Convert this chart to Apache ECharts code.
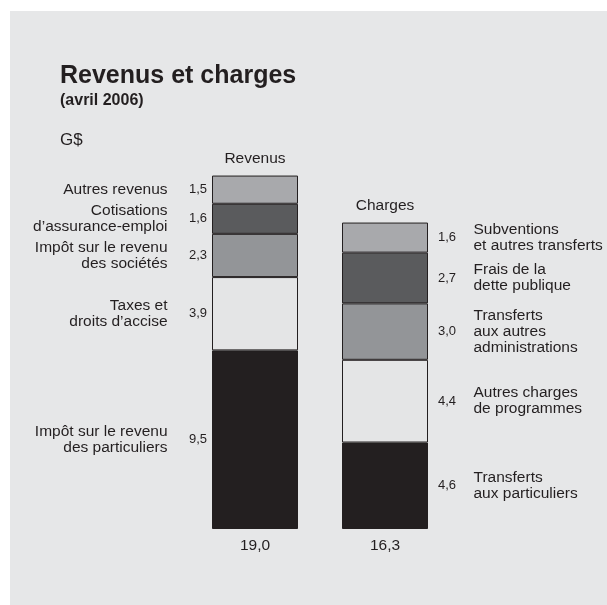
<!DOCTYPE html>
<html>
<head>
<meta charset="utf-8">
<script src="https://cdn.jsdelivr.net/npm/echarts@6/dist/echarts.min.js"></script>
<style>
  html, body { margin: 0; padding: 0; background: #ffffff; }
  #chart { width: 607px; height: 605px; }
</style>
</head>
<body>
<div id="chart"></div>
<script>
// ---- Data (segments listed bottom to top) ----
const categories = ['Revenus', 'Charges'];
const revenueNames = ['Impôt sur le revenu\ndes particuliers', 'Taxes et\ndroits d’accise', 'Impôt sur le revenu\ndes sociétés', 'Cotisations\nd’assurance-emploi', 'Autres revenus'];
const revenueValues = [9.5, 3.9, 2.3, 1.6, 1.5];
const chargeNames = ['Transferts\naux particuliers', 'Autres charges\nde programmes', 'Transferts\naux autres\nadministrations', 'Frais de la\ndette publique', 'Subventions\net autres transferts'];
const chargeValues = [4.6, 4.4, 3.0, 2.7, 1.6];
const totals = [19.0, 16.3];
const levelColors = ['#231f20', '#e4e5e6', '#939598', '#5a5b5d', '#a8a9ac'];

const FONT = '"Liberation Sans", Arial, Helvetica, sans-serif';
const INK = '#231f20';
const PANEL = '#e6e7e8';
const fmt = v => v.toFixed(1).replace('.', ',');

const stacks = [revenueValues, chargeValues];
const names = [revenueNames, chargeNames];

const barSeries = levelColors.map((col, lvl) => ({
  type: 'bar',
  stack: 'total',
  barWidth: 86,
  itemStyle: { color: col, borderColor: INK, borderWidth: 1, opacity: 1 },
  label: { show: true, fontFamily: FONT, fontSize: 13, color: INK, textBorderWidth: 0, formatter: p => fmt(p.value) },
  emphasis: { disabled: true },
  data: stacks.map((vals, ci) => ({
    value: vals[lvl],
    label: ci === 0 ? { position: 'left', distance: 5 } : { position: 'right', distance: 10 }
  }))
}));

// name labels at segment midpoints
const nameData = [];
stacks.forEach((vals, ci) => {
  let cum = 0;
  vals.forEach((v, lvl) => {
    nameData.push({
      value: [ci, cum + v / 2],
      name: names[ci][lvl],
      label: ci === 0 ? { position: 'left', distance: 87, align: 'right' } : { position: 'right', distance: 88, align: 'left' }
    });
    cum += v;
  });
});

const headData = stacks.map((vals, ci) => ({
  value: [ci, vals.reduce((a, b) => a + b, 0)],
  name: categories[ci]
}));

const option = {
  animation: false,
  backgroundColor: '#ffffff',
  textStyle: { fontFamily: FONT },
  graphic: [
    { type: 'rect', left: 10, top: 11, z: -10, silent: true,
      shape: { width: 597, height: 594 }, style: { fill: PANEL } }
  ],
  title: [
    { text: 'Revenus et charges', left: 60, top: 64, padding: 0,
      textStyle: { fontFamily: FONT, fontSize: 25, fontWeight: 'bold', color: INK } },
    { text: '(avril 2006)', left: 60, top: 93, padding: 0,
      textStyle: { fontFamily: FONT, fontSize: 16, fontWeight: 'bold', color: INK } },
    { text: 'G$', left: 60, top: 132, padding: 0,
      textStyle: { fontFamily: FONT, fontSize: 17, fontWeight: 'normal', color: INK } }
  ],
  grid: { left: 190, width: 260, top: 171.8, bottom: 76 },
  xAxis: {
    type: 'category',
    data: categories,
    axisLine: { show: false },
    axisTick: { show: false },
    axisLabel: { margin: 9, fontFamily: FONT, fontSize: 15.5, color: INK, formatter: (v, i) => fmt(totals[i]) }
  },
  yAxis: { type: 'value', min: 0, max: 19, show: false, splitLine: { show: false } },
  series: barSeries.concat([
    {
      type: 'scatter',
      symbolSize: 1,
      itemStyle: { color: 'rgba(0,0,0,0)' },
      emphasis: { disabled: true },
      label: { show: true, formatter: p => p.name, fontFamily: FONT, fontSize: 15.5, lineHeight: 16, color: INK, opacity: 1, textBorderWidth: 0 },
      data: nameData,
      z: 5
    },
    {
      type: 'scatter',
      symbolSize: 1,
      itemStyle: { color: 'rgba(0,0,0,0)' },
      emphasis: { disabled: true },
      label: { show: true, position: 'top', distance: 8, formatter: p => p.name, fontFamily: FONT, fontSize: 15.5, color: INK, opacity: 1, textBorderWidth: 0 },
      data: headData,
      z: 5
    }
  ])
};

const chart = echarts.init(document.getElementById('chart'), null, { renderer: 'canvas' });
chart.setOption(option);
</script>
</body>
</html>
